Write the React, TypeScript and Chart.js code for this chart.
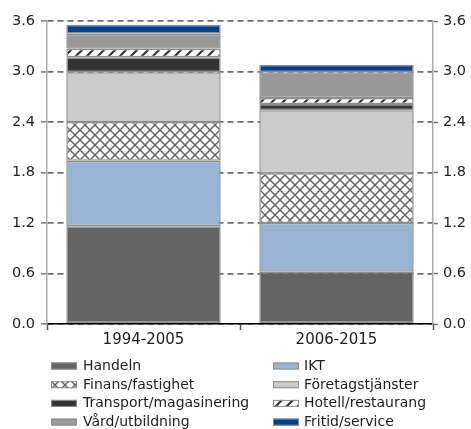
import React, { useEffect, useRef } from "react";
import { Chart, registerables } from "chart.js";

Chart.register(...registerables);

const categories = ["1994-2005", "2006-2015"];
const seriesNames = [
  "Handeln",
  "IKT",
  "Finans/fastighet",
  "Företagstjänster",
  "Transport/magasinering",
  "Hotell/restaurang",
  "Vård/utbildning",
  "Fritid/service",
];
const handeln = [1.16, 0.62];
const ikt = [0.78, 0.58];
const finans = [0.46, 0.59];
const foretag = [0.59, 0.75];
const transport = [0.18, 0.075];
const hotell = [0.1, 0.07];
const vard = [0.18, 0.305];
const fritid = [0.105, 0.09];
const yMin = 0;
const yMax = 3.6;
const yStep = 0.6;

const FONT = "'DejaVu Sans', Verdana, sans-serif";
const TEXT = "#1e1e1e";

function makeCrossHatch(): CanvasPattern | string {
  const c = document.createElement("canvas");
  c.width = 10;
  c.height = 10;
  const g = c.getContext("2d");
  if (!g) return "#ddd";
  g.fillStyle = "#fff";
  g.fillRect(0, 0, 10, 10);
  g.strokeStyle = "#666";
  g.lineWidth = 1.5;
  g.beginPath();
  g.moveTo(0, 0);
  g.lineTo(10, 10);
  g.moveTo(10, 0);
  g.lineTo(0, 10);
  g.stroke();
  return g.createPattern(c, "repeat") || "#ddd";
}

function makeDiagonal(): CanvasPattern | string {
  const s = 11;
  const c = document.createElement("canvas");
  c.width = s;
  c.height = s;
  const g = c.getContext("2d");
  if (!g) return "#ddd";
  g.fillStyle = "#fff";
  g.fillRect(0, 0, s, s);
  g.strokeStyle = "#333";
  g.lineWidth = 2.2;
  g.beginPath();
  g.moveTo(-1, s + 1);
  g.lineTo(s + 1, -1);
  g.moveTo(-1, 1);
  g.lineTo(1, -1);
  g.moveTo(s - 1, s + 1);
  g.lineTo(s + 1, s - 1);
  g.stroke();
  return g.createPattern(c, "repeat") || "#ddd";
}

export default function App() {
  const ref = useRef<HTMLCanvasElement | null>(null);

  useEffect(() => {
    const canvas = ref.current;
    if (!canvas) return;
    const cross = makeCrossHatch();
    const diag = makeDiagonal();
    const values = [handeln, ikt, finans, foretag, transport, hotell, vard, fritid];
    const fills: (string | CanvasPattern)[] = [
      "#646464",
      "#98b3d4",
      cross,
      "#cccccc",
      "#333333",
      diag,
      "#999999",
      "#003f8a",
    ];
    const border = "#8e8e8e";

    const legendPlugin = {
      id: "gridLegend",
      afterDraw(chart: any) {
        const ctx = chart.ctx as CanvasRenderingContext2D;
        const order = [
          [0, 2, 4, 6],
          [1, 3, 5, 7],
        ];
        const swatchX = [51, 273];
        const textX = [83, 304];
        const baselines = [370, 388.7, 407.4, 426.1];
        ctx.save();
        ctx.font = `14px ${FONT}`;
        ctx.textBaseline = "alphabetic";
        ctx.textAlign = "left";
        order.forEach((col, ci) => {
          col.forEach((idx, ri) => {
            const b = baselines[ri];
            ctx.fillStyle = fills[idx] as any;
            ctx.fillRect(swatchX[ci], b - 7.5, 26, 7);
            ctx.strokeStyle = border;
            ctx.lineWidth = 1;
            ctx.strokeRect(swatchX[ci] + 0.5, b - 7, 25, 6);
            ctx.fillStyle = TEXT;
            ctx.fillText(seriesNames[idx], textX[ci], b);
          });
        });
        ctx.restore();
      },
    };

    const yTickCb = (v: any) => Number(v).toFixed(1);

    const chart = new Chart(canvas, {
      type: "bar",
      data: {
        labels: categories,
        datasets: values.map((vals, i) => ({
          label: seriesNames[i],
          data: vals,
          backgroundColor: fills[i] as any,
          borderColor: border,
          borderWidth: 1.5,
          borderSkipped: false,
          barPercentage: 0.8,
          categoryPercentage: 1,
          yAxisID: "y",
        })),
      },
      options: {
        responsive: false,
        animation: false,
        maintainAspectRatio: false,
        layout: { padding: { top: 21, bottom: 75, left: 0, right: 0 } },
        plugins: {
          legend: { display: false },
          tooltip: { enabled: false },
          title: { display: false },
        },
        scales: {
          x: {
            stacked: true,
            offset: true,
            grid: {
              offset: true,
              drawOnChartArea: false,
              drawTicks: true,
              tickLength: 6,
              tickColor: "#555",
              tickWidth: 1.5,
            },
            border: { color: "#000", width: 1.5 },
            ticks: { font: { family: FONT, size: 15 }, color: TEXT, padding: 1 },
            afterFit: (s: any) => {
              s.height = 30;
            },
          },
          y: {
            stacked: true,
            position: "left",
            min: yMin,
            max: yMax,
            ticks: {
              stepSize: yStep,
              callback: yTickCb,
              font: { family: FONT, size: 14.5 },
              color: TEXT,
              padding: 6,
            },
            grid: {
              color: "#6e6e6e",
              lineWidth: 1.8,
              tickLength: 6,
              tickColor: "#777",
              tickWidth: 1.5,
            },
            border: { color: "#ababab", width: 1.5, dash: [6, 4] },
            afterFit: (s: any) => {
              s.width = 47;
            },
          },
          y2: {
            position: "right",
            min: yMin,
            max: yMax,
            ticks: {
              stepSize: yStep,
              callback: yTickCb,
              font: { family: FONT, size: 14.5 },
              color: TEXT,
              padding: 5,
            },
            grid: {
              drawOnChartArea: false,
              tickLength: 5,
              tickColor: "#777",
              tickWidth: 1.5,
            },
            border: { color: "#ababab", width: 1.5 },
            afterFit: (s: any) => {
              s.width = 38;
            },
          },
        },
      },
      plugins: [legendPlugin],
    });
    return () => chart.destroy();
  }, []);

  return (
    <div style={{ position: "fixed", left: 0, top: 0, width: 471, height: 429, background: "#fff" }}>
      <canvas ref={ref} width={471} height={429} style={{ display: "block" }} />
    </div>
  );
}
